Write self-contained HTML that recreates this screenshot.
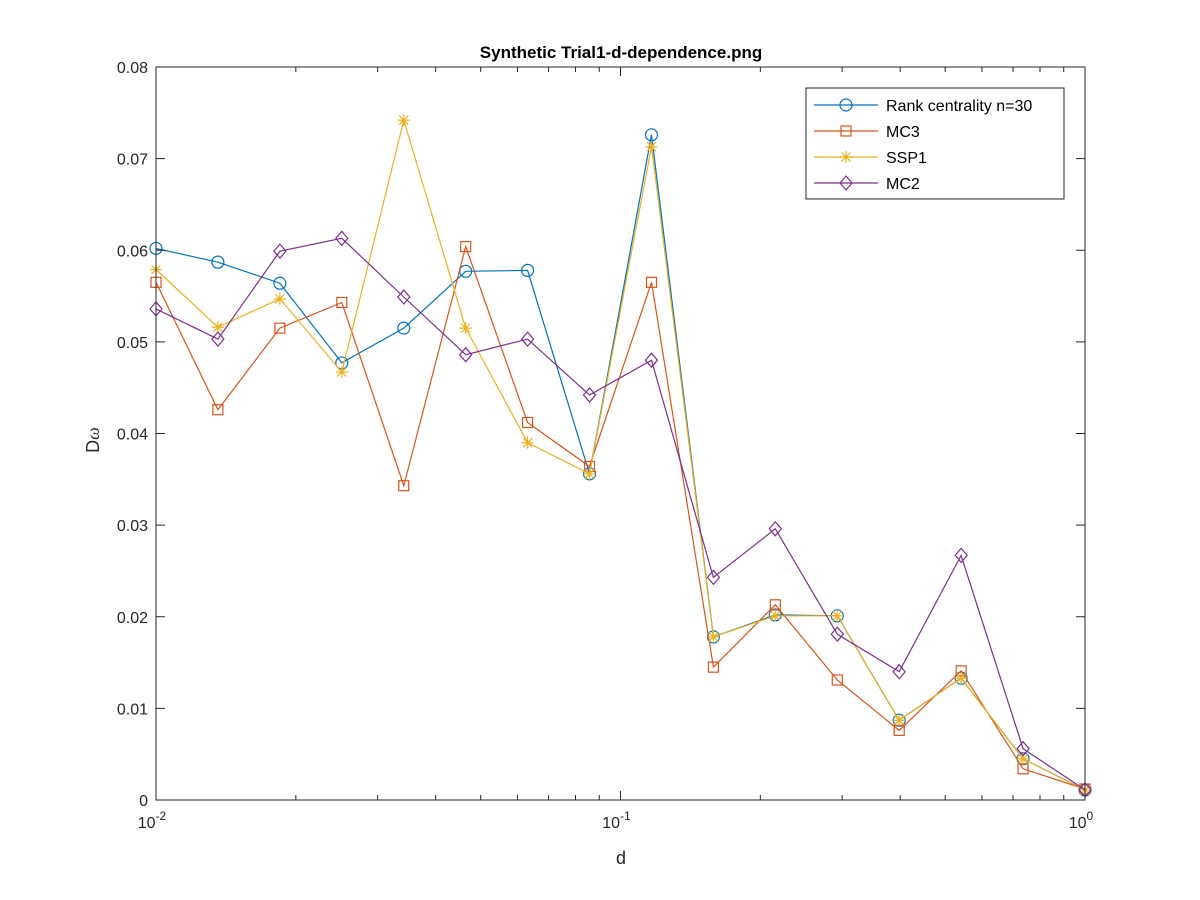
<!DOCTYPE html>
<html><head><meta charset="utf-8"><style>
html,body{margin:0;padding:0;background:#fff;}
svg{display:block;font-family:"Liberation Sans",Arial,sans-serif;}
</style></head><body>
<svg id="chart" width="1200" height="900" viewBox="0 0 1200 900" xmlns="http://www.w3.org/2000/svg">
<rect width="1200" height="900" fill="#fff"/>
<g id="grid"></g>
<g id="series"></g>
<g id="axes"></g>
<text x="621" y="58" text-anchor="middle" font-size="17" font-weight="bold" fill="#000">Synthetic Trial1-d-dependence.png</text>
<text x="621" y="864" text-anchor="middle" font-size="18" fill="#262626">d</text>
<text transform="translate(99,440) rotate(-90)" text-anchor="middle" font-size="18" fill="#262626">D<tspan font-style="italic" font-family="'Liberation Serif',serif">ω</tspan></text>
<g id="legend"></g>
</svg>
<script>
const xValues = [0.01,0.01359,0.01848,0.02512,0.03415,0.04642,0.0631,0.08577,0.1166,0.1585,0.2154,0.2929,0.3981,0.5412,0.7356,1.0];
const seriesNames = ["Rank centrality n=30","MC3","SSP1","MC2"];
const rankValues = [0.0602,0.0587,0.0564,0.0477,0.0515,0.0577,0.0578,0.0356,0.0726,0.0178,0.0202,0.0201,0.0087,0.0133,0.0045,0.0011];
const mc3Values  = [0.0565,0.0426,0.0515,0.0543,0.0343,0.0604,0.0412,0.0364,0.0565,0.0145,0.0213,0.0131,0.0076,0.0141,0.0034,0.0012];
const ssp1Values = [0.0579,0.0516,0.0547,0.0467,0.0742,0.0515,0.0390,0.0356,0.0713,0.0178,0.0201,0.0201,0.0087,0.0133,0.0045,0.0011];
const mc2Values  = [0.0536,0.0503,0.0599,0.0613,0.0549,0.0486,0.0503,0.0442,0.0480,0.0243,0.0296,0.0181,0.0140,0.0267,0.0056,0.0011];
const yTicks = [0,0.01,0.02,0.03,0.04,0.05,0.06,0.07,0.08];
const yTickLabels = ["0","0.01","0.02","0.03","0.04","0.05","0.06","0.07","0.08"];
const xTickExps = [-2,-1,0];

const L=156,R=1085,T=67,B=800;
const NS="http://www.w3.org/2000/svg";
function xs(v){return L+(Math.log10(v)+2)/2*(R-L);}
function ys(v){return B-v/0.08*(B-T);}
function mk(tag,attrs,parent){const e=document.createElementNS(NS,tag);for(const k in attrs)e.setAttribute(k,attrs[k]);parent.appendChild(e);return e;}

const axes=document.getElementById('axes');
const ax=mk('rect',{x:L,y:T,width:R-L,height:B-T,fill:'none',stroke:'#262626','stroke-width':1},axes);


yTicks.forEach((t,i)=>{
  const y=ys(t);
  mk('line',{x1:L,y1:y,x2:L+9,y2:y,stroke:'#262626'},axes);
  mk('line',{x1:R,y1:y,x2:R-9,y2:y,stroke:'#262626'},axes);
  const tx=mk('text',{x:L-8,y:y+6,'text-anchor':'end','font-size':16,fill:'#262626'},axes);
  tx.textContent=yTickLabels[i];
  
  
});
for(let e=-2;e<0;e++){for(let m=2;m<10;m++){const x=xs(m*Math.pow(10,e));
  mk('line',{x1:x,y1:B,x2:x,y2:B-5,stroke:'#262626'},axes);
  mk('line',{x1:x,y1:T,x2:x,y2:T+5,stroke:'#262626'},axes);}}
xTickExps.forEach(e=>{
  const x=xs(Math.pow(10,e));
  mk('line',{x1:x,y1:B,x2:x,y2:B-9,stroke:'#262626'},axes);
  mk('line',{x1:x,y1:T,x2:x,y2:T+9,stroke:'#262626'},axes);
  const tx=mk('text',{x:x-4,y:B+28,'text-anchor':'middle','font-size':16,fill:'#262626'},axes);
  tx.innerHTML='10<tspan dy="-8" font-size="12">'+e+'</tspan>';
  
  
});

function marker(type,x,y,color,g){
  if(type==='circle')return mk('circle',{cx:x,cy:y,r:6,fill:'none',stroke:color,'stroke-width':1.2},g);
  if(type==='square')return mk('rect',{x:x-5,y:y-5,width:10,height:10,fill:'none',stroke:color,'stroke-width':1.2},g);
  if(type==='diamond')return mk('path',{d:`M${x} ${y-7}L${x+6} ${y}L${x} ${y+7}L${x-6} ${y}Z`,fill:'none',stroke:color,'stroke-width':1.2},g);
  return mk('path',{d:`M${x-6} ${y}H${x+6}M${x} ${y-6}V${y+6}M${x-4.5} ${y-4.5}L${x+4.5} ${y+4.5}M${x-4.5} ${y+4.5}L${x+4.5} ${y-4.5}`,fill:'none',stroke:color,'stroke-width':1.2},g);
}
const seriesData=[rankValues,mc3Values,ssp1Values,mc2Values];
const colors=['#0072BD','#D95319','#EDB120','#7E2F8E'];
const markers=['circle','square','star','diamond'];
const sg=document.getElementById('series');
seriesData.forEach((vals,si)=>{
  const g=mk('g',{},sg);
  
  
  const pts=vals.map((v,i)=>xs(xValues[i]).toFixed(1)+','+ys(v).toFixed(1)).join(' ');
  const pl=mk('polyline',{points:pts,fill:'none',stroke:colors[si],'stroke-width':1.2},g);
  
  
  vals.forEach((v,i)=>{const m=marker(markers[si],xs(xValues[i]),ys(v),colors[si],g);
    
    });
});
const lg=document.getElementById('legend');
mk('rect',{x:806,y:88,width:258,height:111,fill:'#fff',stroke:'#262626','stroke-width':1},lg);
seriesNames.forEach((n,i)=>{
  const y=105+i*26;
  const g=mk('g',{},lg);
  
  
  mk('line',{x1:814,y1:y,x2:878,y2:y,stroke:colors[i],'stroke-width':1.2},g);
  marker(markers[i],846,y,colors[i],g);
  const t=mk('text',{x:886,y:y+6,'font-size':16,fill:'#000'},g);
  t.textContent=n;
});
</script>
</body></html>
